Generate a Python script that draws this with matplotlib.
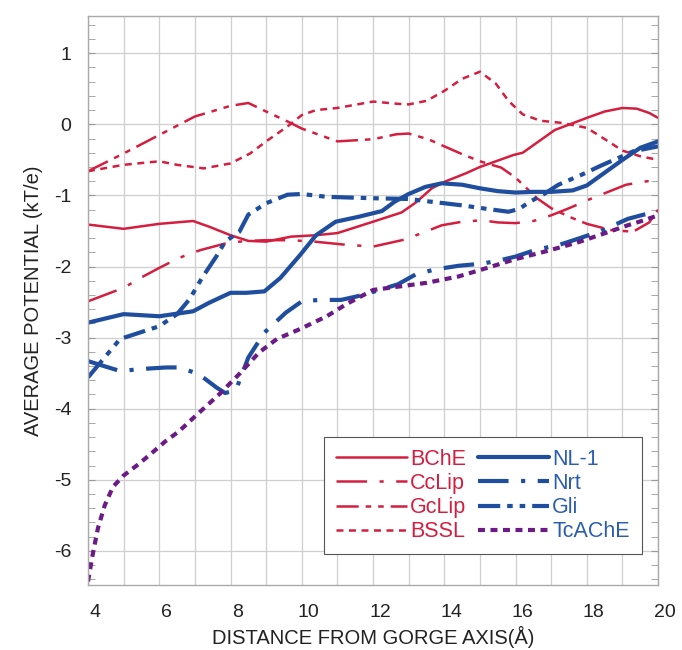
import matplotlib
matplotlib.use("Agg")
import matplotlib.pyplot as plt
import matplotlib.transforms as mtransforms
from matplotlib.ticker import MultipleLocator

plt.rcParams['font.family'] = ['Liberation Sans', 'DejaVu Sans']
plt.rcParams['axes.unicode_minus'] = False
plt.rcParams['lines.scale_dashes'] = False

RED = '#d41e40'
BLUE = '#1f4e9e'
PURPLE = '#6b1a86'
LBLUE = '#2a5db0'

# values
bche_x = [4, 5, 6, 6.95, 7.4, 8, 8.5, 9, 9.7, 10.4, 11, 12, 12.8, 13.2, 13.65, 14, 14.6, 15, 15.95, 16.2, 17.1, 18.05, 18.5, 19, 19.4, 19.75, 20]
bche_y = [-1.41, -1.47, -1.40, -1.36, -1.44, -1.56, -1.64, -1.65, -1.58, -1.56, -1.53, -1.37, -1.24, -1.10, -0.90, -0.81, -0.69, -0.60, -0.43, -0.40, -0.08, 0.10, 0.18, 0.23, 0.22, 0.16, 0.09]

cclip_x = [4, 5, 5.55, 6, 6.55, 7.15, 7.9, 8.45, 9, 9.7, 10.35, 11.15, 12, 12.9, 13.47, 13.93, 14.5, 15.05, 15.5, 16, 16.5, 17, 17.5, 18.1, 18.6, 19.1, 19.7, 20]
cclip_y = [-2.49, -2.30, -2.14, -2.02, -1.88, -1.77, -1.67, -1.64, -1.63, -1.63, -1.65, -1.69, -1.72, -1.62, -1.51, -1.42, -1.37, -1.35, -1.38, -1.39, -1.36, -1.28, -1.18, -1.05, -0.95, -0.85, -0.80, -0.82]

gclip_x = [4, 5, 6, 7, 8, 8.5, 9, 9.6, 10, 11, 12, 12.65, 13, 13.55, 14, 14.5, 15, 15.6, 16, 16.6, 17, 17.5, 18, 18.7, 19.3, 19.75, 20]
gclip_y = [-0.66, -0.41, -0.15, 0.11, 0.26, 0.30, 0.18, 0.04, -0.06, -0.24, -0.21, -0.14, -0.13, -0.21, -0.31, -0.42, -0.52, -0.61, -0.75, -1.04, -1.18, -1.30, -1.40, -1.49, -1.51, -1.38, -1.20]

bssl_x = [4, 5, 6, 6.5, 7.25, 8, 8.55, 9, 9.6, 10, 10.4, 11, 12, 12.65, 13, 13.5, 14, 14.5, 15, 15.45, 15.8, 16.2, 16.7, 17.3, 18, 18.6, 19, 19.5, 20]
bssl_y = [-0.66, -0.57, -0.52, -0.57, -0.62, -0.55, -0.41, -0.24, -0.03, 0.13, 0.20, 0.23, 0.32, 0.29, 0.28, 0.33, 0.47, 0.64, 0.74, 0.57, 0.33, 0.14, 0.05, 0.02, -0.05, -0.24, -0.37, -0.45, -0.50]

nl1_x = [4, 5, 6, 6.95, 7.4, 8, 8.45, 8.95, 9.4, 9.95, 10.4, 10.95, 11.6, 12.25, 12.6, 13, 13.47, 13.93, 14.5, 15, 15.5, 16, 16.5, 17, 17.6, 18, 18.5, 19, 19.5, 20]
nl1_y = [-2.79, -2.67, -2.70, -2.63, -2.51, -2.37, -2.37, -2.35, -2.16, -1.84, -1.56, -1.37, -1.30, -1.22, -1.09, -0.98, -0.88, -0.83, -0.85, -0.90, -0.94, -0.96, -0.95, -0.95, -0.93, -0.86, -0.68, -0.50, -0.33, -0.24]

nrt_x = [4, 4.25, 4.9, 5.55, 6.2, 6.55, 7.1, 7.6, 7.85, 8.15, 8.5, 8.95, 9.55, 10, 10.5, 11.1, 11.55, 12.05, 12.7, 13.2, 13.75, 14.4, 15.05, 15.5, 16, 16.6, 17.2, 17.75, 18.4, 19.15, 19.6, 20]
nrt_y = [-3.33, -3.37, -3.47, -3.44, -3.42, -3.42, -3.51, -3.70, -3.78, -3.74, -3.28, -2.93, -2.65, -2.49, -2.47, -2.47, -2.42, -2.35, -2.25, -2.11, -2.04, -1.99, -1.96, -1.92, -1.86, -1.76, -1.70, -1.61, -1.50, -1.33, -1.27, -1.24]

gli_x = [4, 4.9, 5.45, 6, 6.5, 6.85, 7.2, 7.6, 7.85, 8.25, 8.5, 9, 9.6, 10, 10.7, 12, 13, 13.65, 14.5, 15.2, 15.8, 16.1, 16.4, 16.8, 17.2, 17.85, 18.4, 18.9, 19.3, 20]
gli_y = [-3.56, -3.02, -2.93, -2.84, -2.67, -2.46, -2.16, -1.86, -1.65, -1.51, -1.27, -1.11, -0.99, -0.98, -1.02, -1.04, -1.05, -1.09, -1.14, -1.19, -1.23, -1.19, -1.09, -0.98, -0.85, -0.71, -0.58, -0.47, -0.38, -0.31]

tc_x = [4, 4.14, 4.28, 4.47, 4.7, 5, 5.42, 5.8, 6.17, 6.55, 7, 7.7, 8.25, 8.8, 9.3, 9.95, 10.7, 11.25, 12, 12.75, 13.5, 14.4, 15.2, 15.97, 16.9, 17.75, 18.4, 19.15, 19.6, 20]
tc_y = [-6.43, -6.03, -5.68, -5.36, -5.10, -4.94, -4.78, -4.62, -4.46, -4.32, -4.11, -3.79, -3.51, -3.21, -3.02, -2.88, -2.70, -2.53, -2.33, -2.28, -2.23, -2.14, -2.02, -1.90, -1.78, -1.66, -1.55, -1.42, -1.35, -1.28]

LONG_SHORT = (0, (22, 9, 3, 9))
LONG_2SHORT = (0, (16, 5, 4, 5, 4, 5))
SHORT = (0, (5, 4))

# order = legend order (column-wise): red column, then blue column
series = [
    (bche_x, bche_y, RED, 1.8, '-', 'BChE', RED),
    (cclip_x, cclip_y, RED, 1.8, LONG_SHORT, 'CcLip', RED),
    (gclip_x, gclip_y, RED, 1.8, LONG_2SHORT, 'GcLip', RED),
    (bssl_x, bssl_y, RED, 1.8, SHORT, 'BSSL', RED),
    (nl1_x, nl1_y, BLUE, 3.0, '-', 'NL-1', LBLUE),
    (nrt_x, nrt_y, BLUE, 3.0, LONG_SHORT, 'Nrt', LBLUE),
    (gli_x, gli_y, BLUE, 3.0, LONG_2SHORT, 'Gli', LBLUE),
    (tc_x, tc_y, PURPLE, 3.0, SHORT, 'TcAChE', LBLUE),
]

fig = plt.figure(figsize=(6.82, 6.5), dpi=100)
ax = fig.add_axes([0.129, 0.10, 0.836, 0.875])

handles = []
for x, y, c, lw, ls, lab, tc in series:
    h, = ax.plot(x, y, color=c, lw=lw, linestyle=ls, label=lab,
                 solid_capstyle='round', dash_capstyle='butt')
    handles.append(h)

ax.set_xlim(4, 20)
ax.set_ylim(-6.48, 1.52)
ax.xaxis.set_major_locator(MultipleLocator(2))
ax.xaxis.set_minor_locator(MultipleLocator(1))
ax.yaxis.set_major_locator(MultipleLocator(1))
ax.yaxis.set_minor_locator(MultipleLocator(0.2))
ax.grid(True, which='major', color='#cfcfcf', lw=0.9)
ax.grid(True, which='minor', axis='x', color='#cfcfcf', lw=0.9)
ax.tick_params(axis='both', which='both', direction='in', colors='#999999',
               labelcolor='#222222', labelsize=14)
ax.tick_params(axis='y', which='both', right=True, length=5, pad=12)
ax.tick_params(axis='x', which='both', length=0, pad=14)
for sp in ax.spines.values():
    sp.set_color('#aaaaaa')
    sp.set_linewidth(1.0)

offset = mtransforms.ScaledTranslation(7 / 100, 0, fig.dpi_scale_trans)
for lbl in ax.get_xticklabels():
    lbl.set_transform(lbl.get_transform() + offset)

ax.set_xlabel('DISTANCE FROM GORGE AXIS(Å)', fontsize=14.5, labelpad=3, color='#222222')
ax.set_ylabel('AVERAGE POTENTIAL (kT/e)', fontsize=14.5, labelpad=8, color='#222222')

leg = ax.legend(handles=handles, ncol=2, loc='lower right',
                bbox_to_anchor=(0.99, 0.035), fontsize=15.5, frameon=True,
                fancybox=False, edgecolor='#555555', framealpha=1,
                handlelength=3.3, handletextpad=0.15, columnspacing=0.55,
                labelspacing=0.15, borderpad=0.55)
leg.get_frame().set_linewidth(0.8)
for txt, s in zip(leg.get_texts(), series):
    txt.set_color(s[6])

fig.savefig('out.png', dpi=100)
